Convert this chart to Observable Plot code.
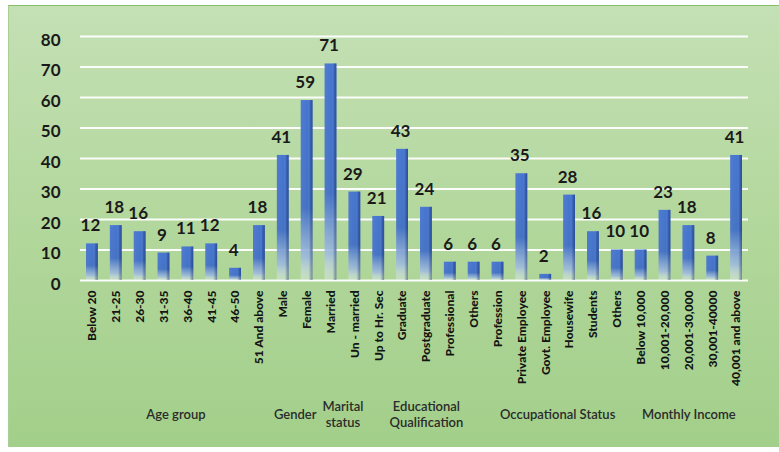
<!DOCTYPE html>
<html>
<head>
<meta charset="utf-8">
<script src="https://cdn.jsdelivr.net/npm/d3@7"></script>
<script src="https://cdn.jsdelivr.net/npm/@observablehq/plot@0.6"></script>
<style>
  html, body { margin: 0; padding: 0; background: #ffffff; }
  #wrap { position: relative; width: 779px; height: 452px; overflow: hidden; }
  #bg { position: absolute; left: 8px; top: 5px; width: 771px; height: 442px;
        background: linear-gradient(180deg, #c4e0b5 0%, #b4d89e 45%, #a2cf8a 100%);
        border-top: 1.5px solid #86bf65; border-left: 1px solid #a9cf95; box-sizing: border-box; }
  #chart { position: absolute; left: 0; top: 0; }
</style>
</head>
<body>
<div id="wrap"><div id="bg"></div><div id="chart"></div></div>
<script>
const categories = ["Below 20","21-25","26-30","31-35","36-40","41-45","46-50","51 And above",
  "Male","Female","Married","Un - married","Up to Hr. Sec","Graduate","Postgraduate","Professional","Others",
  "Profession","Private Employee","Govt. Employee","Housewife","Students","Others",
  "Below 10,000","10,001-20,000","20,001-30,000","30,001-40000","40,001 and above"];
const values = [12,18,16,9,11,12,4,18, 41,59, 71,29, 21,43,24,6,6, 6,35,2,28,16,10, 10,23,18,8,41];
const groupNames = ["Age group","Gender","Marital\nstatus","Educational\nQualification","Occupational Status","Monthly Income"];
const groupFirst = [0, 8, 10, 12, 17, 23];
const groupLast  = [7, 9, 11, 16, 22, 27];
const yTicks = [0,10,20,30,40,50,60,70,80];

const data = categories.map((c, i) => ({i, c, v: values[i]}));
const groups = groupNames.map((g, k) => ({g, mid: (groupFirst[k] + groupLast[k]) / 2}));

const plot = Plot.plot({
  width: 779, height: 452,
  marginLeft: 80, marginRight: 31, marginTop: 36, marginBottom: 172,
  style: {background: "transparent", fontFamily: "Lato, 'Open Sans', sans-serif", color: "#1a1a1a"},
  x: {type: "linear", domain: [-0.5, categories.length - 0.5], axis: null},
  y: {domain: [0, 80], axis: null},
  marks: [
    Plot.ruleY(yTicks, {stroke: "#ffffff", strokeWidth: 2, strokeOpacity: 0.95}),
    Plot.rectY(data, {x1: d => d.i - 0.5, x2: d => d.i + 0.5, y: "v", insetLeft: 6, insetRight: 6, fill: "url(#barV)"}),
    Plot.rectY(data, {x1: d => d.i - 0.5, x2: d => d.i + 0.5, y: "v", insetLeft: 6, insetRight: 6, fill: "url(#barH)"}),
    Plot.text(data, {x: "i", y: "v", text: d => String(d.v), dy: -18, dx: -2, fontSize: 17, fontWeight: "bold", fill: "#1a1a1a"}),
    Plot.axisY({ticks: yTicks, label: null, tickSize: 0, tickPadding: 20, fontSize: 17, fontWeight: "bold", dy: 4, fill: "#1a1a1a"}),
    Plot.axisX({ticks: data.map(d => d.i), label: null, tickFormat: i => categories[i], tickSize: 0, tickPadding: 10,
      tickRotate: -90, fontSize: 12, fontWeight: 900, fill: "#141414"}),
    Plot.text(groups, {x: "mid", frameAnchor: "bottom", text: "g", dy: 133, lineAnchor: "middle", lineHeight: 1.25,
      fontSize: 13, fontWeight: 600, fill: "#2b2b2b"})
  ]
});

const svg = d3.select(plot);
const defs = svg.insert("defs", ":first-child");
const gv = defs.append("linearGradient").attr("id", "barV").attr("x1", 0).attr("y1", 0).attr("x2", 0).attr("y2", 1);
gv.append("stop").attr("offset", "0").attr("stop-color", "#4675d0");
gv.append("stop").attr("offset", "0.6").attr("stop-color", "#4472c4");
gv.append("stop").attr("offset", "0.88").attr("stop-color", "#9db8e0").attr("stop-opacity", 0.85);
gv.append("stop").attr("offset", "1").attr("stop-color", "#e6eef7").attr("stop-opacity", 0.35);
const gh = defs.append("linearGradient").attr("id", "barH").attr("x1", 0).attr("y1", 0).attr("x2", 1).attr("y2", 0);
gh.append("stop").attr("offset", "0").attr("stop-color", "#ffffff").attr("stop-opacity", 0.05);
gh.append("stop").attr("offset", "0.6").attr("stop-color", "#ffffff").attr("stop-opacity", 0.0);
gh.append("stop").attr("offset", "0.8").attr("stop-color", "#0a1f5c").attr("stop-opacity", 0.2);
gh.append("stop").attr("offset", "1").attr("stop-color", "#0a1f5c").attr("stop-opacity", 0.45);

document.getElementById("chart").appendChild(plot);
</script>
</body>
</html>
